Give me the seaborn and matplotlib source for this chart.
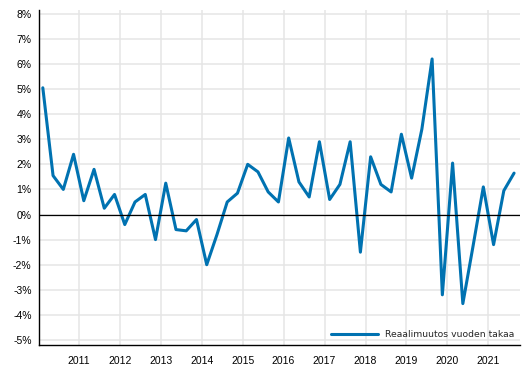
import numpy as np
import pandas as pd
import matplotlib
matplotlib.use("Agg")
import matplotlib.pyplot as plt
import seaborn as sns
from matplotlib.ticker import FuncFormatter

# quarterly data, 2010Q1 - 2021Q3
years = [y for y in range(2010, 2022) for _ in range(4)][:47]
quarters = ([1, 2, 3, 4] * 12)[:47]
change = [
    5.05, 1.55, 1.0, 2.4,
    0.55, 1.8, 0.25, 0.8,
    -0.4, 0.5, 0.8, -1.0,
    1.25, -0.6, -0.65, -0.2,
    -2.0, -0.8, 0.5, 0.85,
    2.0, 1.7, 0.9, 0.5,
    3.05, 1.3, 0.7, 2.9,
    0.6, 1.2, 2.9, -1.5,
    2.3, 1.2, 0.9, 3.2,
    1.45, 3.4, 6.2, -3.2,
    2.05, -3.55, -1.25, 1.1,
    -1.2, 0.95, 1.65,
]
series_label = "Reaalimuutos vuoden takaa"
year_ticks = list(range(2011, 2022))

df = pd.DataFrame({"year": years, "quarter": quarters, "change": change})
df["t"] = df["year"] + (df["quarter"] - 0.5) / 4

sns.set_style("white")
plt.rcParams["font.family"] = ["Liberation Sans", "DejaVu Sans"]

fig = plt.figure(figsize=(5.29, 3.78), dpi=100)
ax = fig.add_axes([0.0728, 0.0873, 0.9102, 0.8862])

sns.lineplot(data=df, x="t", y="change", ax=ax, color="#0072b1", linewidth=2.2,
             label=series_label)
ax.axhline(0, color="black", linewidth=0.9, zorder=3)

ax.set_xlim(2010.02, 2021.77)
ax.set_ylim(-5.2, 8.15)
ax.set_xticks(year_ticks)
ax.set_xticklabels([str(y) for y in year_ticks])
ax.set_yticks(range(-5, 9))
ax.yaxis.set_major_formatter(FuncFormatter(lambda v, p: f"{v:.0f}%"))
ax.grid(True, color="#e5e5e5", linewidth=1.1)
ax.set_axisbelow(True)
ax.set_xlabel("")
ax.set_ylabel("")

for s in ["top", "right"]:
    ax.spines[s].set_visible(False)
for s in ["left", "bottom"]:
    ax.spines[s].set_color("black")
    ax.spines[s].set_linewidth(1.0)
ax.tick_params(axis="both", labelsize=7.5, length=3, width=0.8, colors="black", pad=2)
ax.tick_params(axis="x", length=0, pad=8)

leg = ax.legend(loc="lower right", frameon=False, handlelength=5, borderaxespad=0.2,
                prop={"family": "DejaVu Sans", "size": 6.7})

fig.savefig("out.png", dpi=100)
